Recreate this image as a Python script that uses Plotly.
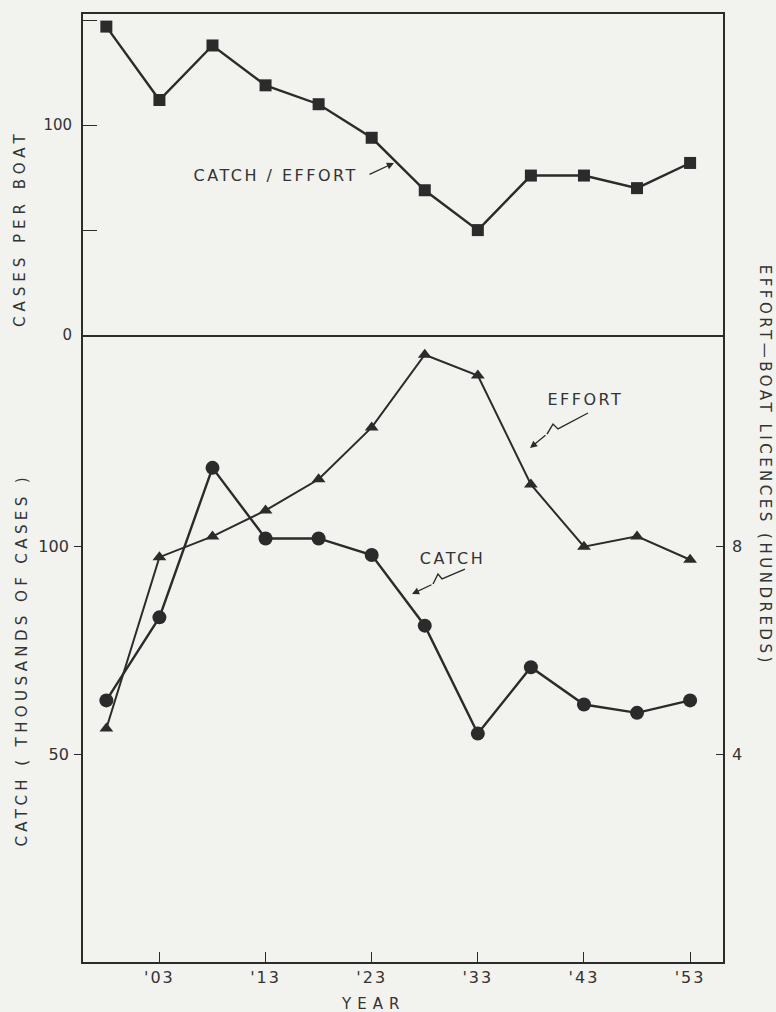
import plotly.graph_objects as go

# Salmon pack series, sampled every five years
years = [1898, 1903, 1908, 1913, 1918, 1923, 1928, 1933, 1938, 1943, 1948, 1953]
catch_per_effort = [147, 112, 138, 119, 110, 94, 69, 50, 76, 76, 70, 82]   # cases per boat
catch = [63, 83, 119, 102, 102, 98, 81, 55, 71, 62, 60, 63]                # thousands of cases
effort = [4.5, 7.8, 8.2, 8.7, 9.3, 10.3, 11.7, 11.3, 9.2, 8.0, 8.2, 7.75]  # hundreds of licences

year_ticks = [1903, 1913, 1923, 1933, 1943, 1953]
year_labels = ["'03", "'13", "'23", "'33", "'43", "'53"]

W, H = 776, 1012
INK = "#2b2b2b"
PAPER = "#f2f2ef"
FONT = "DejaVu Sans"


def fx(p):
    return p / W


def fy(p):
    return 1 - p / H


fig = go.Figure()

# upper panel: catch per unit effort
fig.add_trace(go.Scatter(
    x=years, y=catch_per_effort, xaxis="x2", yaxis="y",
    mode="lines+markers", line=dict(color=INK, width=2.4),
    marker=dict(symbol="square", size=12, color=INK), showlegend=False))

# lower panel: catch (left axis) and effort (right axis)
fig.add_trace(go.Scatter(
    x=years, y=catch, xaxis="x", yaxis="y2",
    mode="lines+markers", line=dict(color=INK, width=2.4),
    marker=dict(symbol="circle", size=14, color=INK), showlegend=False))
fig.add_trace(go.Scatter(
    x=years, y=effort, xaxis="x", yaxis="y3",
    mode="lines+markers", line=dict(color=INK, width=2.0),
    marker=dict(symbol="triangle-up", size=12, color=INK), showlegend=False))

x_range = [1895.8, 1956.1]
x_dom = [fx(83), fx(723)]
tickfont = dict(family=FONT, size=16, color="#333")
axis_line = dict(showline=True, linecolor=INK, linewidth=1.8, showgrid=False,
                 zeroline=False, automargin=False)

fig.update_layout(
    width=W, height=H, autosize=False,
    margin=dict(l=0, r=0, t=0, b=0, pad=0),
    paper_bgcolor=PAPER, plot_bgcolor=PAPER,
    xaxis=dict(domain=x_dom, range=x_range, anchor="y2", mirror=False,
               tickmode="array", tickvals=year_ticks, ticktext=year_labels,
               ticks="inside", ticklen=10, tickwidth=1.4, tickcolor=INK,
               tickfont=tickfont, ticklabelstandoff=0, **axis_line),
    xaxis2=dict(domain=x_dom, range=x_range, anchor="y", mirror=True,
                showticklabels=False, ticks="", **axis_line),
    yaxis=dict(domain=[fy(335), fy(14)], range=[0, 153], anchor="x2", mirror=True,
               tickmode="array", tickvals=[0, 50, 100, 150], ticktext=["0", "", "100", ""],
               ticks="inside", ticklen=14, tickwidth=1.4, tickcolor=INK,
               tickfont=dict(family=FONT, size=15, color="#333"), ticklabelstandoff=6,
               **axis_line),
    yaxis2=dict(domain=[fy(962), fy(335)], range=[0, 151], anchor="x",
                tickmode="array", tickvals=[50, 100], ticktext=["50", "100"],
                ticks="outside", ticklen=7, tickwidth=1.4, tickcolor=INK,
                tickfont=tickfont, ticklabelstandoff=2, **axis_line),
    yaxis3=dict(range=[0, 151 / 12.5], overlaying="y2", side="right", anchor="x",
                tickmode="array", tickvals=[4, 8], ticktext=["4", "8"],
                ticks="inside", ticklen=7, tickwidth=1.4, tickcolor=INK,
                tickfont=tickfont, ticklabelstandoff=4, **axis_line),
)

title_font = dict(family=FONT, size=15, color="#333")
label_font = dict(family=FONT, size=16, color="#333")

annotations = [
    dict(text="CASES PER BOAT", x=fx(20), y=fy(228), textangle=-90, font=title_font),
    dict(text="CATCH ( THOUSANDS OF CASES )", x=fx(22), y=fy(660), textangle=-90,
         font=title_font),
    dict(text="EFFORT\u2014BOAT LICENCES (HUNDREDS)", x=fx(765), y=fy(465), textangle=90,
         font=title_font),
    dict(text="YEAR", x=fx(373), y=fy(1004), font=title_font),
    dict(text="CATCH / EFFORT", x=fx(276), y=fy(175), font=label_font),
    dict(text="EFFORT", x=fx(585), y=fy(400), font=label_font),
    dict(text="CATCH", x=fx(452), y=fy(558), font=label_font),
]
for a in annotations:
    a.update(xref="paper", yref="paper", showarrow=False, xanchor="center", yanchor="middle")

# pointer heads: tip position plus pixel offset back to the tail
pointers = [
    dict(x=fx(394), y=fy(163), ax=-26, ay=12),
    dict(x=fx(530), y=fy(448), ax=17, ay=-14),
    dict(x=fx(412), y=fy(594), ax=21, ay=-10),
]
for p in pointers:
    p.update(xref="paper", yref="paper", text="", showarrow=True, arrowhead=2,
             arrowsize=1.1, arrowwidth=1.3, arrowcolor=INK, standoff=0)
fig.update_layout(annotations=annotations + pointers)


def zigzag(points):
    path = "M " + " L ".join(f"{fx(px):.4f},{fy(py):.4f}" for px, py in points)
    return dict(type="path", xref="paper", yref="paper", path=path,
                line=dict(color=INK, width=1.4))


fig.update_layout(shapes=[
    zigzag([(588, 413), (558, 429), (553, 424), (547, 434)]),
    zigzag([(465, 569), (442, 579), (438, 574), (433, 584)]),
])

# wider letter spacing for the hand-lettered labels
spacing_js = """
var gd = document.getElementById('{plot_id}');
var gaps = {'0': '5px', '1': '4.4px', '2': '3.5px', '3': '6px', '4': '2.5px', '5': '2.5px', '6': '2.5px'};
gd.querySelectorAll('g.annotation').forEach(function (g) {
  var s = gaps[g.getAttribute('data-index')];
  if (s) { g.querySelectorAll('text').forEach(function (t) { t.style.letterSpacing = s; }); }
});
gd.querySelectorAll('.xtick text').forEach(function (t) { t.style.letterSpacing = '2px'; });
"""

fig.write_html("out.html", post_script=[spacing_js])
